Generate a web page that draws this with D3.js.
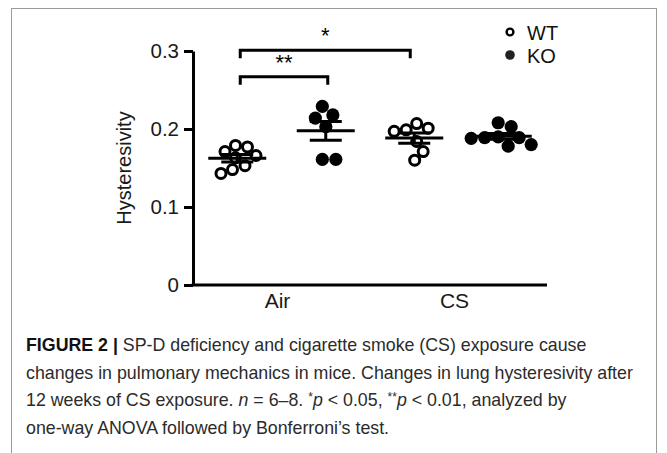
<!DOCTYPE html>
<html>
<head>
<meta charset="utf-8">
<script src="https://cdn.jsdelivr.net/npm/d3@7"></script>
<style>
    body { margin: 0; background: #fff; }
    svg { display: block; }
    text { font-family: "Liberation Sans", Arial, sans-serif; }
</style>
</head>
<body>
<svg id="chart" width="667" height="453"></svg>
<script>
// values (hysteresivity, per mouse)
const conditions = ["Air", "CS"];
const genotypes = ["WT", "KO"];
const wtAir = [0.177, 0.179, 0.171, 0.166, 0.163, 0.153, 0.143, 0.148];
const koAir = [0.229, 0.214, 0.218, 0.203, 0.161, 0.161];
const wtCs = [0.197, 0.201, 0.207, 0.199, 0.184, 0.171, 0.160];
const koCs = [0.208, 0.203, 0.189, 0.190, 0.188, 0.189, 0.178, 0.180];
const yTicks = [0, 0.1, 0.2, 0.3];
const brackets = [
    { a: ["Air", "WT"], b: ["CS", "WT"], level: 0.301, label: "*" },
    { a: ["Air", "WT"], b: ["Air", "KO"], level: 0.267, label: "**" }
];
const captionLines = [
    [["FIGURE 2 | ", "b"], ["SP-D deficiency and cigarette smoke (CS) exposure cause", ""]],
    [["changes in pulmonary mechanics in mice. Changes in lung hysteresivity after", ""]],
    [["12 weeks of CS exposure. ", ""], ["n", "i"], [" = 6–8. ", ""], ["*", "s"], ["p", "i"],
     [" < 0.05, ", ""], ["**", "s"], ["p", "i"], [" < 0.01, analyzed by", ""]],
    [["one-way ANOVA followed by Bonferroni’s test.", ""]]
];

const series = [
    { cond: "Air", geno: "WT", values: wtAir },
    { cond: "Air", geno: "KO", values: koAir },
    { cond: "CS", geno: "WT", values: wtCs },
    { cond: "CS", geno: "KO", values: koCs }
];

const svg = d3.select("#chart");

// figure frame
svg.append("rect")
    .attr("x", 11.5).attr("y", 8.5)
    .attr("width", 645).attr("height", 460)
    .attr("fill", "none")
    .attr("stroke", "#9a9a9a")
    .attr("stroke-width", 1);

const x0 = d3.scaleBand().domain(conditions).range([193, 547]);
const x1 = d3.scalePoint().domain(genotypes).range([0, x0.bandwidth()]).padding(0.5);
const y = d3.scaleLinear().domain([0, 0.3]).range([285, 51]);

const cx = (cond, geno) => x0(cond) + x1(geno);

// y axis
const yAxis = svg.append("g")
    .attr("transform", "translate(193,0)")
    .call(d3.axisLeft(y)
        .tickValues(yTicks)
        .tickSize(9)
        .tickSizeOuter(0)
        .tickPadding(5)
        .tickFormat(d => (d === 0 ? "0" : d3.format(".1f")(d))));
yAxis.select(".domain").attr("stroke-width", 3).attr("stroke", "#000");
yAxis.selectAll(".tick line").attr("stroke-width", 3).attr("stroke", "#000");
yAxis.selectAll(".tick text")
    .attr("font-size", 20.5)
    .attr("fill", "#1a1a1a")
    .style("font-family", "'Liberation Sans', Arial, sans-serif");

// x axis
const xAxis = svg.append("g")
    .attr("transform", "translate(0,285)")
    .call(d3.axisBottom(x0).tickSize(0).tickSizeOuter(0).tickPadding(8));
xAxis.select(".domain").attr("stroke-width", 3).attr("stroke", "#000")
    .attr("d", `M${191.5},0H547`);
xAxis.selectAll(".tick text")
    .attr("font-size", 21)
    .attr("fill", "#1a1a1a")
    .attr("dx", -4)
    .style("font-family", "'Liberation Sans', Arial, sans-serif");

// y label
svg.append("text")
    .attr("transform", "translate(131,168) rotate(-90)")
    .attr("text-anchor", "middle")
    .attr("font-size", 20)
    .attr("fill", "#1a1a1a")
    .text("Hysteresivity");

// simple swarm, so points with close values spread sideways
function swarm(values, minDist) {
    const placed = [];
    values.map(v => v).sort((a, b) => b - a).forEach(v => {
        const py = y(v);
        let dx = 0;
        for (let k = 0; k < 400; k++) {
            const cand = (k % 2 ? 1 : -1) * Math.ceil(k / 2) * 0.5;
            const ok = placed.every(q => (cand - q.dx) ** 2 + (py - q.py) ** 2 >= minDist * minDist);
            if (ok) { dx = cand; break; }
        }
        placed.push({ v: v, py: py, dx: dx });
    });
    const shift = d3.mean(placed, d => d.dx);
    placed.forEach(d => { d.dx -= shift; });
    return placed;
}

series.forEach(s => {
    const c = cx(s.cond, s.geno);
    const isWT = s.geno === "WT";
    const pts = swarm(s.values, isWT ? 12 : 13.5);
    const g = svg.append("g");

    g.selectAll("circle")
        .data(pts)
        .join("circle")
        .attr("cx", d => c + d.dx)
        .attr("cy", d => d.py)
        .attr("r", isWT ? 5 : 6.6)
        .attr("fill", isWT ? "none" : "#000")
        .attr("stroke", isWT ? "#000" : "none")
        .attr("stroke-width", 3);

    const m = d3.mean(s.values);
    const sem = d3.deviation(s.values) / Math.sqrt(s.values.length);

    g.append("line")
        .attr("x1", c - 29).attr("x2", c + 29)
        .attr("y1", y(m)).attr("y2", y(m))
        .attr("stroke", "#000").attr("stroke-width", 3);
    g.append("line")
        .attr("x1", c).attr("x2", c)
        .attr("y1", y(m - sem)).attr("y2", y(m + sem))
        .attr("stroke", "#000").attr("stroke-width", 3);
    [m - sem, m + sem].forEach(v => {
        g.append("line")
            .attr("x1", c - 16).attr("x2", c + 16)
            .attr("y1", y(v)).attr("y2", y(v))
            .attr("stroke", "#000").attr("stroke-width", 3);
    });
});

// significance brackets
brackets.forEach(b => {
    const xa = cx(b.a[0], b.a[1]) + 3;
    const xb = cx(b.b[0], b.b[1]) - (b.b[0] === "CS" ? 4 : -2);
    const yy = y(b.level);
    svg.append("path")
        .attr("d", `M${xa},${yy + 8}V${yy}H${xb}V${yy + 8}`)
        .attr("fill", "none")
        .attr("stroke", "#000")
        .attr("stroke-width", 3);
    svg.append("text")
        .attr("x", (xa + xb) / 2)
        .attr("y", yy - 7)
        .attr("text-anchor", "middle")
        .attr("font-size", 22)
        .attr("fill", "#000")
        .text(b.label);
});

// legend
const legend = svg.append("g").attr("transform", "translate(510,0)");
genotypes.forEach((gname, i) => {
    const ly = 32 + i * 23;
    legend.append("circle")
        .attr("cx", 0).attr("cy", ly)
        .attr("r", gname === "WT" ? 3.4 : 4.8)
        .attr("fill", gname === "WT" ? "none" : "#222")
        .attr("stroke", gname === "WT" ? "#000" : "none")
        .attr("stroke-width", 2.4);
    legend.append("text")
        .attr("x", 17).attr("y", ly + 7.5)
        .attr("font-size", 20)
        .attr("fill", "#111")
        .text(gname);
});

// caption
const cap = svg.append("text")
    .attr("font-size", 17.8)
    .attr("fill", "#2b2b2b");
captionLines.forEach((line, i) => {
    const t = cap.append("tspan").attr("x", 26).attr("y", 351 + i * 27.5);
    line.forEach(([txt, st], j) => {
        const sp = j === 0 ? t : cap.append("tspan");
        sp.text(txt);
        if (st === "b") sp.attr("font-weight", "bold").attr("fill", "#111");
        if (st === "i") sp.attr("font-style", "italic");
        if (st === "s") sp.attr("font-size", 12).attr("dy", -5);
        if (j > 0 && line[j - 1][1] === "s") sp.attr("dy", 5);
    });
});
</script>
</body>
</html>
